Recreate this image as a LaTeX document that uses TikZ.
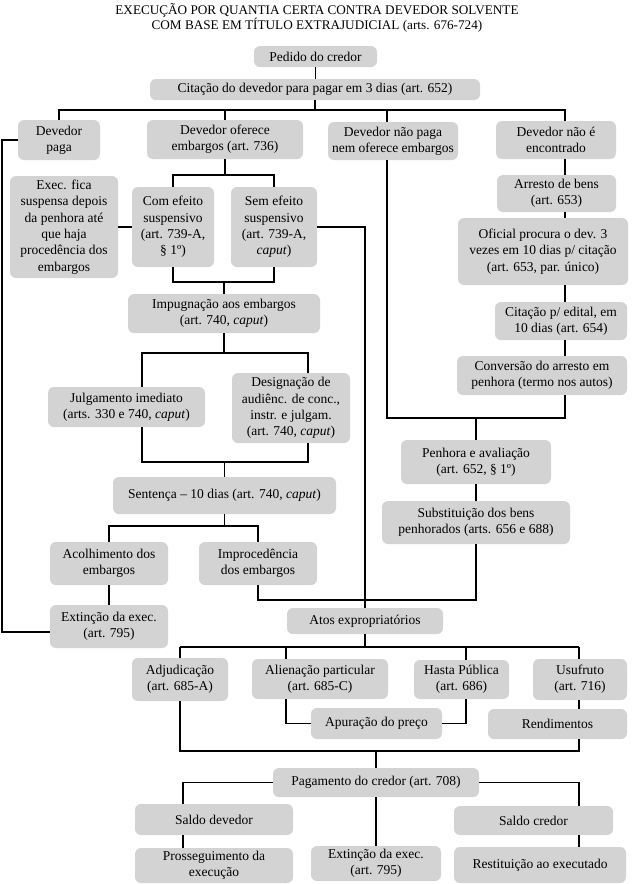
\documentclass[tikz,border=0pt]{standalone}
\usepackage{fontspec}
\setmainfont{Liberation Serif}
\usetikzlibrary{calc}
\definecolor{boxgray}{RGB}{211,211,211}
\begin{document}
\begin{tikzpicture}[x=1pt,y=-1pt,
  bx/.style={fill=boxgray, rounded corners=6pt, align=center, inner sep=0pt,
    font={\fontsize{13.5}{16.3}\selectfont}},
  wh/.style 2 args={minimum width=#1pt, minimum height=#2pt},
  ln/.style={line width=1.1pt, black},
  ttl/.style={anchor=base, inner sep=0pt, font={\fontsize{13.2}{15}\selectfont}}]
\useasboundingbox (0,0) rectangle (634,884);

% title
\node[ttl] (t1) at (317,14) {EXECUÇÃO POR QUANTIA CERTA CONTRA DEVEDOR SOLVENTE};
\node[ttl] (t2) at (317,29) {COM BASE EM TÍTULO EXTRAJUDICIAL (arts. 676-724)};

% boxes
\node[bx, wh={123}{21}] (ped) at (315.5,56.5) {Pedido do credor};
\node[bx, wh={330}{21}] (cit) at (315,89.5) {Citação do devedor para pagar em 3 dias (art. 652)};
\node[bx, wh={82}{40}] (pag) at (59,140) {Devedor\\paga};
\node[bx, wh={156}{39}] (ofe) at (225,139.5) {Devedor oferece\\embargos (art. 736)};
\node[bx, wh={130}{38}] (nao) at (393,141) {Devedor não paga\\nem oferece embargos};
\node[bx, wh={120}{38}] (enc) at (556,140) {Devedor não é\\encontrado};
\node[bx, wh={108}{102}] (exe) at (64,227) {Exec. fica\\suspensa depois\\da penhora até\\que haja\\procedência dos\\embargos};
\node[bx, wh={82}{80}] (com) at (173,227) {Com efeito\\suspensivo\\(art. 739-A,\\§ 1º)};
\node[bx, wh={86}{80}] (sem) at (274,227) {Sem efeito\\suspensivo\\(art. 739-A,\\\textit{caput})};
\node[bx, wh={119}{37}] (arr) at (556.5,193.5) {Arresto de bens\\(art. 653)};
\node[bx, wh={170}{67}] (ofi) at (543,251.5) {Oficial procura o dev. 3\\vezes em 10 dias p/ citação\\(art. 653, par. único)};
\node[bx, wh={192}{39}] (imp) at (224,313.5) {Impugnação aos embargos\\(art. 740, \textit{caput})};
\node[bx, wh={132}{38}] (edi) at (561,321) {Citação p/ edital, em\\10 dias (art. 654)};
\node[bx, wh={170}{39}] (cnv) at (542,375.5) {Conversão do arresto em\\penhora (termo nos autos)};
\node[bx, wh={157}{40}] (jul) at (126.5,407) {Julgamento imediato\\(arts. 330 e 740, \textit{caput})};
\node[bx, wh={118}{70}] (des) at (291,408) {Designação de\\audiênc. de conc.,\\instr. e julgam.\\(art. 740, \textit{caput})};
\node[bx, wh={150}{44}] (pen) at (476,462) {Penhora e avaliação\\(art. 652, § 1º)};
\node[bx, wh={223}{37}] (sen) at (224.5,495.5) {Sentença – 10 dias (art. 740, \textit{caput})};
\node[bx, wh={188}{43}] (sub) at (476,522.5) {Substituição dos bens\\penhorados (arts. 656 e 688)};
\node[bx, wh={118}{43}] (aco) at (109,563.5) {Acolhimento dos\\embargos};
\node[bx, wh={118}{43}] (imc) at (258,563.5) {Improcedência\\dos embargos};
\node[bx, wh={118}{43}] (ext1) at (109,626.5) {Extinção da exec.\\(art. 795)};
\node[bx, wh={156}{26}] (ato) at (365,621) {Atos expropriatórios};
\node[bx, wh={96}{43}] (adj) at (180,679.5) {Adjudicação\\(art. 685-A)};
\node[bx, wh={136}{40}] (ali) at (320,679) {Alienação particular\\(art. 685-C)};
\node[bx, wh={95}{39}] (has) at (461.5,679.5) {Hasta Pública\\(art. 686)};
\node[bx, wh={94}{41}] (usu) at (580,679.5) {Usufruto\\(art. 716)};
\node[bx, wh={131}{31}] (apu) at (376.5,723.5) {Apuração do preço};
\node[bx, wh={139}{30}] (ren) at (557.5,724) {Rendimentos};
\node[bx, wh={206}{29}] (pgc) at (376,782.5) {Pagamento do credor (art. 708)};
\node[bx, wh={158}{31}] (sdv) at (214,819.5) {Saldo devedor};
\node[bx, wh={159}{29}] (scr) at (533.5,820.5) {Saldo credor};
\node[bx, wh={158}{35}] (pro) at (214,865.5) {Prosseguimento da\\execução};
\node[bx, wh={130}{35}] (ext2) at (376,863.5) {Extinção da exec.\\(art. 795)};
\node[bx, wh={172}{36}] (res) at (540,865) {Restituição ao executado};

% helper coordinates
\coordinate (h1) at (0,110);
\coordinate (b2) at (0,175);
\coordinate (b3) at (0,282);
\coordinate (b4) at (0,353);
\coordinate (b5) at (0,462);
\coordinate (b6) at (0,526);
\coordinate (b7) at (0,600);
\coordinate (b8) at (0,418);
\coordinate (b9) at (0,647);
\coordinate (b10) at (0,751);
\coordinate (e1) at (0,632);
\coordinate (rc) at (565,0);
\coordinate (nc) at (387,0);
\coordinate (jc) at (142,0);
\coordinate (dc) at (308,0);
\coordinate (lx) at (2,0);
\coordinate (alc) at (286,0);
\coordinate (hac) at (466,0);
\coordinate (sdc) at (183,0);
\coordinate (rc2) at (579,0);

% connectors
\draw[ln] (ped.south) -- (ped.south |- cit.north);
\draw[ln] (cit.south) -- (cit.south |- h1);
\draw[ln] (pag.north) -- (pag.north |- h1) -- (rc |- h1) -- (rc |- enc.north);
\draw[ln] (ofe.north) -- (ofe.north |- h1);
\draw[ln] (nc |- h1) -- (nc |- nao.north);
% right column
\draw[ln] (rc |- enc.south) -- (rc |- arr.north);
\draw[ln] (rc |- arr.south) -- (rc |- ofi.north);
\draw[ln] (rc |- ofi.south) -- (rc |- edi.north);
\draw[ln] (rc |- edi.south) -- (rc |- cnv.north);
\draw[ln] (nc |- nao.south) -- (nc |- b8) -- (rc |- b8) -- (rc |- cnv.south);
\draw[ln] (pen.north) -- (pen.north |- b8);
\draw[ln] (pen) -- (sub);
% embargos
\draw[ln] (ofe.south) -- (ofe.south |- b2);
\draw[ln] (com.north) -- (com.north |- b2) -- (sem.north |- b2) -- (sem.north);
\draw[ln] (exe) -- (com);
\draw[ln] (com.south) -- (com.south |- b3) -- (sem.south |- b3) -- (sem.south);
\draw[ln] (imp.north) -- (imp.north |- b3);
\draw[ln] (sem.east) -| (ato.north);
\draw[ln] (imp.south) -- (imp.south |- b4);
\draw[ln] (jc |- jul.north) -- (jc |- b4) -- (dc |- b4) -- (dc |- des.north);
\draw[ln] (jc |- jul.south) -- (jc |- b5) -- (dc |- b5) -- (dc |- des.south);
\draw[ln] (sen.north) -- (sen.north |- b5);
\draw[ln] (sen.south) -- (sen.south |- b6);
\draw[ln] (aco.north) -- (aco.north |- b6) -- (imc.north |- b6) -- (imc.north);
\draw[ln] (aco) -- (ext1);
\draw[ln] (imc.south) -- (imc.south |- b7) -- (sub.south |- b7) -- (sub.south);
\draw[ln] (pag.west) -- (lx |- pag.west) -- (lx |- e1) -- (ext1.west |- e1);
% expropriation
\draw[ln] (ato.south) -- (ato.south |- b9);
\draw[ln] (adj.north |- b9) -- (rc2 |- b9);
\draw[ln] (adj.north) -- (adj.north |- b9);
\draw[ln] (alc |- ali.north) -- (alc |- b9);
\draw[ln] (hac |- has.north) -- (hac |- b9);
\draw[ln] (rc2 |- usu.north) -- (rc2 |- b9);
\draw[ln] (alc |- ali.south) |- (apu.west);
\draw[ln] (apu.east) -| (hac |- has.south);
\draw[ln] (rc2 |- usu.south) -- (rc2 |- ren.north);
\draw[ln] (adj.south) -- (adj.south |- b10) -- (rc2 |- b10) -- (rc2 |- ren.south);
\draw[ln] (pgc.north) -- (pgc.north |- b10);
% payment
\draw[ln] (pgc.west) -| (sdc |- sdv.north);
\draw[ln] (sdc |- sdv.south) -- (sdc |- pro.north);
\draw[ln] (pgc.east) -| (rc2 |- scr.north);
\draw[ln] (rc2 |- scr.south) -- (rc2 |- res.north);
\draw[ln] (pgc) -- (ext2);
\end{tikzpicture}
\end{document}
